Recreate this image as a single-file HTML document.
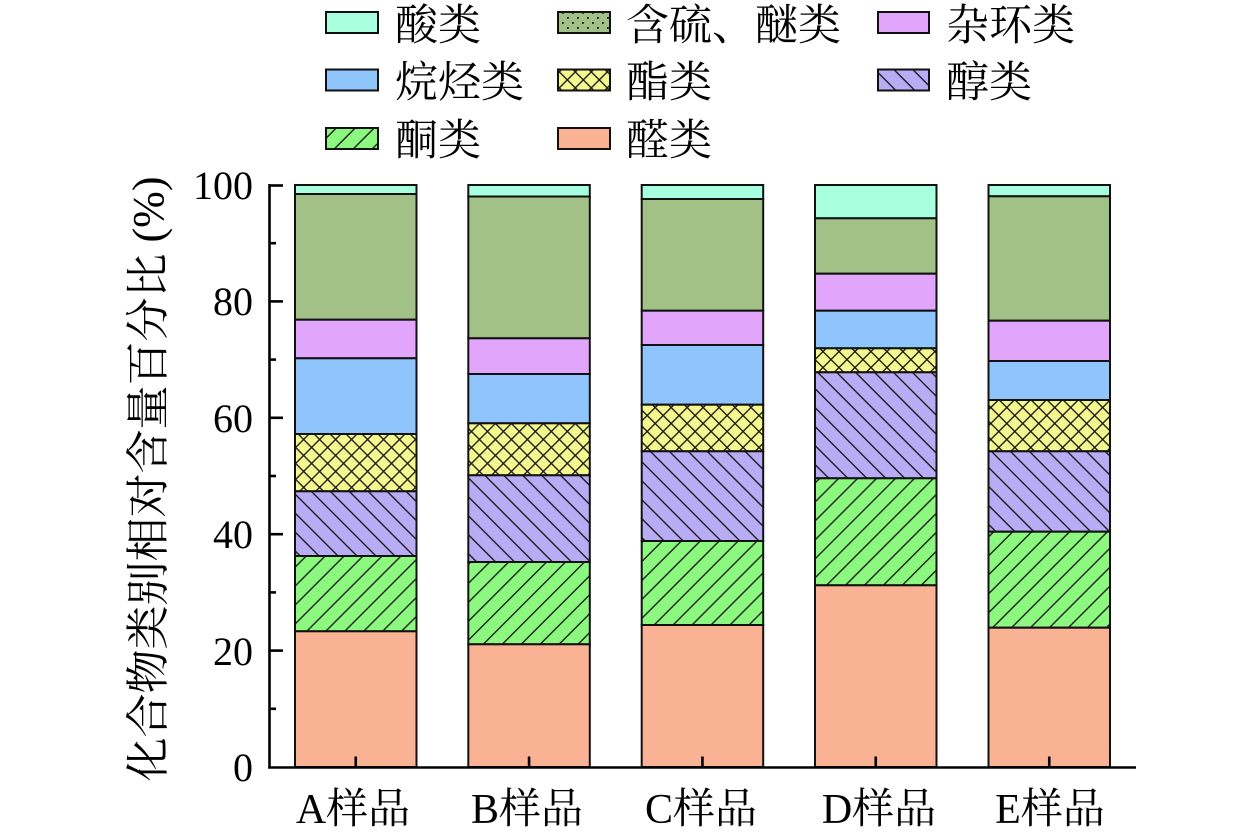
<!DOCTYPE html>
<html>
<head>
<meta charset="utf-8">
<style>
html,body{margin:0;padding:0;background:#fff;}
svg{display:block;}
text{font-family:"Liberation Serif","Noto Serif CJK SC",serif;fill:#000;}
</style>
</head>
<body>
<svg width="1260" height="836" viewBox="0 0 1260 836" xmlns="http://www.w3.org/2000/svg">
<defs>
  <pattern id="fwd" patternUnits="userSpaceOnUse" width="13.4" height="13.4" patternTransform="rotate(45)">
    <rect width="13.4" height="13.4" fill="#8cf87f"/>
    <line x1="6.7" y1="-1" x2="6.7" y2="14.4" stroke="#111" stroke-width="1.3"/>
  </pattern>
  <pattern id="back" patternUnits="userSpaceOnUse" width="13.4" height="13.4" patternTransform="rotate(-45)">
    <rect width="13.4" height="13.4" fill="#b8acf5"/>
    <line x1="6.7" y1="-1" x2="6.7" y2="14.4" stroke="#111" stroke-width="1.3"/>
  </pattern>
  <pattern id="cross" patternUnits="userSpaceOnUse" width="11.3" height="11.3" patternTransform="rotate(45)">
    <rect width="11.3" height="11.3" fill="#f5f78f"/>
    <line x1="5.65" y1="-1" x2="5.65" y2="12.3" stroke="#111" stroke-width="1.3"/>
    <line x1="-1" y1="5.65" x2="12.3" y2="5.65" stroke="#111" stroke-width="1.3"/>
  </pattern>
  <pattern id="dots" patternUnits="userSpaceOnUse" width="10" height="10">
    <rect width="10" height="10" fill="#a2c187"/>
    <rect x="2" y="2" width="1.8" height="1.8" fill="#111"/>
    <rect x="7" y="7" width="1.8" height="1.8" fill="#111"/>
  </pattern>
</defs>

<!-- Legend -->
<g stroke="#111" stroke-width="2">
  <rect x="326" y="12" width="52" height="21" fill="#a8ffe0"/>
  <rect x="558" y="12" width="52" height="21" fill="url(#dots)"/>
  <rect x="878" y="12" width="51" height="21" fill="#e1a5fb"/>
  <rect x="326" y="69.5" width="52" height="21" fill="#90c4fd"/>
  <rect x="558" y="69.5" width="52" height="21" fill="url(#cross)"/>
  <rect x="878" y="69.5" width="51" height="21" fill="url(#back)"/>
  <rect x="326" y="128" width="52" height="21" fill="url(#fwd)"/>
  <rect x="558" y="128" width="52" height="21" fill="#f9b293"/>
</g>
<g font-size="43">
  <text x="395" y="40">酸类</text>
  <text x="626" y="40">含硫、醚类</text>
  <text x="946" y="40">杂环类</text>
  <text x="395" y="97">烷烃类</text>
  <text x="626" y="97">酯类</text>
  <text x="946" y="97">醇类</text>
  <text x="395" y="155">酮类</text>
  <text x="626" y="155">醛类</text>
</g>

<!-- Bars -->
<g stroke="#111" stroke-width="2">
  <!-- A -->
  <rect x="295" y="185" width="121.5" height="9" fill="#a8ffe0"/>
  <rect x="295" y="194" width="121.5" height="125.7" fill="#a2c187"/>
  <rect x="295" y="319.7" width="121.5" height="38.6" fill="#e1a5fb"/>
  <rect x="295" y="358.3" width="121.5" height="75.7" fill="#90c4fd"/>
  <rect x="295" y="434" width="121.5" height="57.3" fill="url(#cross)"/>
  <rect x="295" y="491.3" width="121.5" height="64.7" fill="url(#back)"/>
  <rect x="295" y="556" width="121.5" height="75.3" fill="url(#fwd)"/>
  <rect x="295" y="631.3" width="121.5" height="135.7" fill="#f9b293"/>
  <!-- B -->
  <rect x="468.3" y="185" width="121.5" height="11.5" fill="#a8ffe0"/>
  <rect x="468.3" y="196.5" width="121.5" height="141.8" fill="#a2c187"/>
  <rect x="468.3" y="338.3" width="121.5" height="35.7" fill="#e1a5fb"/>
  <rect x="468.3" y="374" width="121.5" height="49.3" fill="#90c4fd"/>
  <rect x="468.3" y="423.3" width="121.5" height="52" fill="url(#cross)"/>
  <rect x="468.3" y="475.3" width="121.5" height="86.7" fill="url(#back)"/>
  <rect x="468.3" y="562" width="121.5" height="82.3" fill="url(#fwd)"/>
  <rect x="468.3" y="644.3" width="121.5" height="122.7" fill="#f9b293"/>
  <!-- C -->
  <rect x="641.7" y="185" width="121.5" height="14" fill="#a8ffe0"/>
  <rect x="641.7" y="199" width="121.5" height="111.7" fill="#a2c187"/>
  <rect x="641.7" y="310.7" width="121.5" height="34.3" fill="#e1a5fb"/>
  <rect x="641.7" y="345" width="121.5" height="59.7" fill="#90c4fd"/>
  <rect x="641.7" y="404.7" width="121.5" height="46.6" fill="url(#cross)"/>
  <rect x="641.7" y="451.3" width="121.5" height="89.7" fill="url(#back)"/>
  <rect x="641.7" y="541" width="121.5" height="84" fill="url(#fwd)"/>
  <rect x="641.7" y="625" width="121.5" height="142" fill="#f9b293"/>
  <!-- D -->
  <rect x="815" y="185" width="121.5" height="33.3" fill="#a8ffe0"/>
  <rect x="815" y="218.3" width="121.5" height="55.4" fill="#a2c187"/>
  <rect x="815" y="273.7" width="121.5" height="37" fill="#e1a5fb"/>
  <rect x="815" y="310.7" width="121.5" height="37.6" fill="#90c4fd"/>
  <rect x="815" y="348.3" width="121.5" height="24" fill="url(#cross)"/>
  <rect x="815" y="372.3" width="121.5" height="106" fill="url(#back)"/>
  <rect x="815" y="478.3" width="121.5" height="107" fill="url(#fwd)"/>
  <rect x="815" y="585.3" width="121.5" height="181.7" fill="#f9b293"/>
  <!-- E -->
  <rect x="988.5" y="185" width="121.5" height="11.3" fill="#a8ffe0"/>
  <rect x="988.5" y="196.3" width="121.5" height="124.4" fill="#a2c187"/>
  <rect x="988.5" y="320.7" width="121.5" height="40.3" fill="#e1a5fb"/>
  <rect x="988.5" y="361" width="121.5" height="39" fill="#90c4fd"/>
  <rect x="988.5" y="400" width="121.5" height="51.3" fill="url(#cross)"/>
  <rect x="988.5" y="451.3" width="121.5" height="80.4" fill="url(#back)"/>
  <rect x="988.5" y="531.7" width="121.5" height="96" fill="url(#fwd)"/>
  <rect x="988.5" y="627.7" width="121.5" height="139.3" fill="#f9b293"/>
</g>

<!-- Axes -->
<g stroke="#000" stroke-width="2.6" fill="none">
  <line x1="269.5" y1="184" x2="269.5" y2="768.5"/>
  <line x1="268.2" y1="767.5" x2="1136" y2="767.5"/>
  <!-- major y ticks -->
  <line x1="269.5" y1="185.5" x2="283" y2="185.5"/>
  <line x1="269.5" y1="301.4" x2="283" y2="301.4"/>
  <line x1="269.5" y1="417.8" x2="283" y2="417.8"/>
  <line x1="269.5" y1="534.2" x2="283" y2="534.2"/>
  <line x1="269.5" y1="650.6" x2="283" y2="650.6"/>
  <!-- minor y ticks -->
  <line x1="269.5" y1="243.2" x2="276" y2="243.2"/>
  <line x1="269.5" y1="359.6" x2="276" y2="359.6"/>
  <line x1="269.5" y1="476" x2="276" y2="476"/>
  <line x1="269.5" y1="592.4" x2="276" y2="592.4"/>
  <line x1="269.5" y1="708.8" x2="276" y2="708.8"/>
  <!-- x ticks -->
  <line x1="355.75" y1="767" x2="355.75" y2="756.5"/>
  <line x1="529.05" y1="767" x2="529.05" y2="756.5"/>
  <line x1="702.45" y1="767" x2="702.45" y2="756.5"/>
  <line x1="875.75" y1="767" x2="875.75" y2="756.5"/>
  <line x1="1049.25" y1="767" x2="1049.25" y2="756.5"/>
</g>

<!-- Y tick labels -->
<g font-size="40" text-anchor="end">
  <text x="253" y="199">100</text>
  <text x="253" y="315">80</text>
  <text x="253" y="432">60</text>
  <text x="253" y="548">40</text>
  <text x="253" y="665">20</text>
  <text x="253" y="781">0</text>
</g>

<!-- X labels -->
<g font-size="42" text-anchor="middle">
  <text x="353" y="823">A样品</text>
  <text x="527" y="823">B样品</text>
  <text x="701" y="823">C样品</text>
  <text x="879" y="823">D样品</text>
  <text x="1050" y="823">E样品</text>
</g>

<!-- Y title -->
<text font-size="44" text-anchor="middle" transform="translate(163,479) rotate(-90)">化合物类别相对含量百分比 (%)</text>
</svg>
</body>
</html>
